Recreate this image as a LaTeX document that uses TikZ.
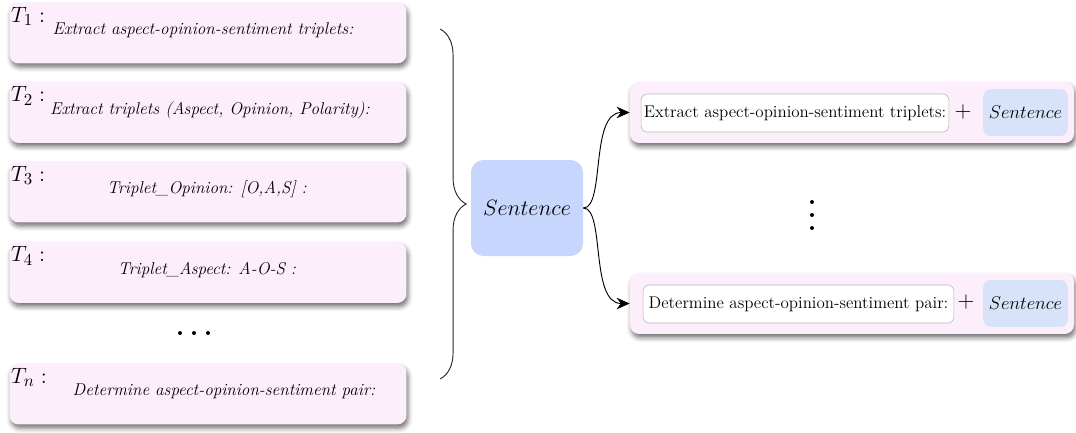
\documentclass[tikz,border=0pt]{standalone}
\usepackage{amsmath,amssymb}
\usepackage{tikz}
\usetikzlibrary{arrows.meta,calc,decorations.pathreplacing,shadows.blur}

\definecolor{taskpink}{HTML}{FDEEFB}
\definecolor{sentblue}{HTML}{C6D6FC}
\definecolor{inblue}{HTML}{D6E3F8}
\definecolor{framegray}{HTML}{B8B8B8}

\begin{document}
\begin{tikzpicture}[x=0.65pt,y=-0.65pt,
  card/.style={fill=taskpink,rounded corners=6pt,minimum height=39.6pt,
    blur shadow={shadow xshift=1pt,shadow yshift=-2.5pt,shadow blur radius=3pt,shadow opacity=55}},
  task/.style={card,minimum width=258pt},
  prompt/.style={card,minimum width=288.6pt},
  instr/.style={draw=framegray,fill=white,rounded corners=4pt,minimum height=24.7pt,inner sep=1pt,
    font=\fontsize{11}{13}\selectfont},
  sbox/.style={fill=inblue,rounded corners=5pt,minimum width=55pt,minimum height=30.5pt},
  link/.style={semithick,-{Stealth[length=8.5pt,width=7.5pt]}}]
\useasboundingbox (0,0) rectangle (1076,432);

\foreach \k/\y/\dx/\txt in {1/33/-5/{Extract aspect-opinion-sentiment triplets:},
    2/112.5/2/{Extract triplets (Aspect, Opinion, Polarity):},
    3/192/-1/{Triplet\_Opinion: [O,A,S] :},
    4/272.5/-1/{Triplet\_Aspect: A-O-S :},
    n/394/16/{Determine aspect-opinion-sentiment pair:}} {
  \node[task] (t\k) at (208,\y) {};
  \node[anchor=north west,inner sep=1pt] (t\k lab) at ([yshift=-2pt]t\k.north west) {\fontsize{15.2}{18}\selectfont $T_\k:$};
  \node[font=\fontsize{11.1}{13}\selectfont] (t\k txt) at ([xshift=\dx*0.65pt,yshift=1.5pt]t\k.center) {\textit{\txt}};
}
\foreach \x in {180,194,208} \fill (\x,333) circle (1.3pt);

\coordinate (btop) at (440,29);
\coordinate (bbot) at (440,379);
\draw[semithick,black!85,decorate,decoration={brace,amplitude=17pt}] (btop) -- (bbot);

\node[fill=sentblue,rounded corners=8pt,minimum width=72.8pt,minimum height=62.4pt] (sent) at (527,208) {\Large $Sentence$};

\node[prompt] (r1) at (852,112.5) {};
\node[instr,minimum width=200pt] (p1) at (795,113) {Extract aspect-opinion-sentiment triplets:};
\node (plus1) at (963,112) {\Large $+$};
\node[sbox] (s1) at (1025.5,112.5) {\large $Sentence$};

\node[prompt] (r2) at (852,303.5) {};
\node[instr,minimum width=202pt] (p2) at (798.5,304) {Determine aspect-opinion-sentiment pair:};
\node (plus2) at (966,302) {\Large $+$};
\node[sbox] (s2) at (1025.5,303.5) {\large $Sentence$};

\foreach \y in {202,215,228} \fill (812,\y) circle (1.3pt);

\draw[link] (sent.east) .. controls +(22,0) and +(-40,0) .. (r1.west);
\draw[link] (sent.east) .. controls +(22,0) and +(-40,0) .. (r2.west);
\end{tikzpicture}
\end{document}
